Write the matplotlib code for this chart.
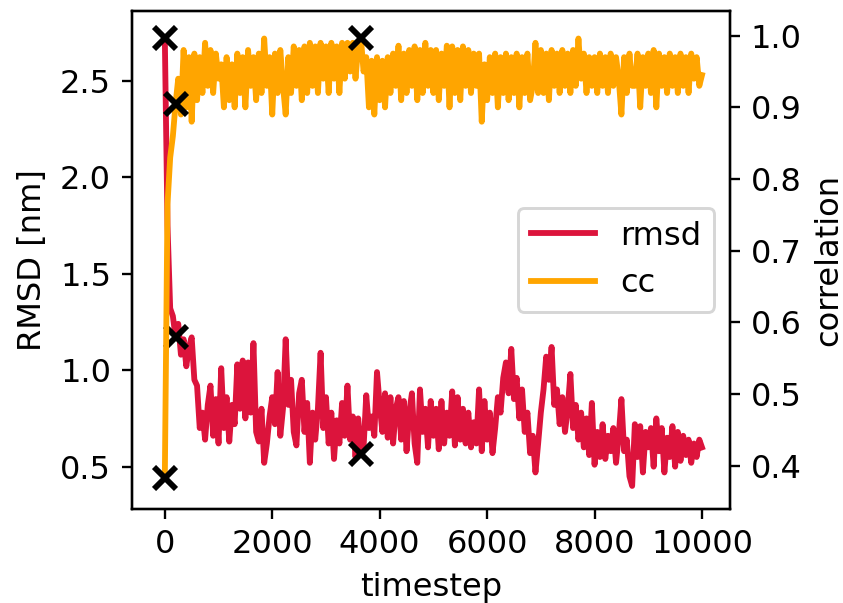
import numpy as np
import matplotlib.pyplot as plt

# timesteps every 50 steps, 0..10000
timestep = np.arange(0, 10001, 50)

rmsd = [
    2.72, 1.75, 1.32, 1.28, 1.17, 1.24, 1.08, 1.16, 1.02, 1.12,
    1.17, 0.95, 0.92, 0.70, 0.78, 0.64, 0.82, 0.92, 0.66, 0.85,
    0.62, 1.01, 0.70, 0.86, 0.63, 0.82, 0.72, 1.03, 0.80, 1.05,
    0.75, 1.04, 0.78, 1.14, 0.68, 0.63, 0.80, 0.52, 0.62, 0.76,
    0.86, 0.72, 0.99, 0.66, 0.80, 1.16, 0.82, 0.95, 0.68, 0.61,
    0.88, 0.95, 0.68, 0.83, 0.52, 0.78, 0.64, 0.80, 1.09, 0.70,
    0.86, 0.62, 0.78, 0.54, 0.74, 0.62, 0.83, 0.66, 0.92, 0.64,
    0.76, 0.55, 0.75, 0.566, 0.60, 0.87, 0.70, 0.76, 0.66, 0.99,
    0.82, 0.68, 0.88, 0.65, 0.86, 0.62, 0.80, 0.86, 0.64, 0.84,
    0.58, 0.78, 0.88, 0.62, 0.52, 0.90, 0.68, 0.80, 0.60, 0.84,
    0.66, 0.80, 0.59, 0.84, 0.62, 0.78, 0.66, 0.89, 0.61, 0.86,
    0.64, 0.80, 0.62, 0.78, 0.60, 0.73, 0.62, 0.90, 0.58, 0.84,
    0.64, 0.78, 0.57, 0.70, 0.86, 0.78, 0.96, 1.04, 0.88, 1.11,
    0.85, 0.96, 0.75, 0.90, 0.68, 0.78, 0.57, 0.66, 0.47, 0.62,
    0.78, 0.90, 1.07, 0.95, 1.12, 0.82, 0.90, 0.72, 0.86, 0.68,
    0.80, 0.98, 0.70, 0.82, 0.64, 0.78, 0.60, 0.75, 0.56, 0.83,
    0.51, 0.68, 0.55, 0.72, 0.54, 0.66, 0.58, 0.70, 0.52, 0.66,
    0.85, 0.58, 0.64, 0.45, 0.40, 0.72, 0.55, 0.71, 0.47, 0.68,
    0.60, 0.70, 0.50, 0.75, 0.58, 0.70, 0.47, 0.65, 0.55, 0.71,
    0.50, 0.68, 0.53, 0.66, 0.56, 0.64, 0.52, 0.62, 0.55, 0.64,
    0.60,
]

cc = [
    0.383, 0.765, 0.83, 0.86, 0.905, 0.94, 0.89, 0.98, 0.90, 0.97,
    0.88, 0.975, 0.91, 0.97, 0.92, 0.99, 0.93, 0.98, 0.92, 0.975,
    0.94, 0.96, 0.90, 0.97, 0.91, 0.96, 0.90, 0.975, 0.92, 0.97,
    0.90, 0.98, 0.93, 0.97, 0.91, 0.975, 0.92, 0.996, 0.93, 0.97,
    0.89, 0.975, 0.92, 0.98, 0.93, 0.89, 0.97, 0.92, 0.985, 0.93,
    0.98, 0.91, 0.985, 0.92, 0.99, 0.93, 0.985, 0.92, 0.99, 0.94,
    0.985, 0.92, 0.99, 0.94, 0.985, 0.92, 0.99, 0.94, 0.99, 0.95,
    0.99, 0.94, 0.985, 0.997, 0.95, 0.97, 0.90, 0.965, 0.89, 0.97,
    0.91, 0.965, 0.90, 0.97, 0.92, 0.975, 0.93, 0.986, 0.91, 0.975,
    0.92, 0.98, 0.93, 0.985, 0.91, 0.98, 0.92, 0.99, 0.93, 0.98,
    0.92, 0.98, 0.91, 0.975, 0.93, 0.986, 0.90, 0.985, 0.92, 0.98,
    0.91, 0.985, 0.93, 0.98, 0.92, 0.975, 0.93, 0.975, 0.88, 0.96,
    0.91, 0.97, 0.92, 0.975, 0.90, 0.97, 0.92, 0.975, 0.91, 0.97,
    0.92, 0.975, 0.90, 0.97, 0.92, 0.975, 0.91, 0.93, 0.99, 0.92,
    0.98, 0.92, 0.975, 0.91, 0.98, 0.93, 0.975, 0.92, 0.98, 0.93,
    0.975, 0.92, 0.98, 0.93, 0.996, 0.94, 0.975, 0.92, 0.97, 0.93,
    0.97, 0.92, 0.975, 0.93, 0.97, 0.92, 0.975, 0.93, 0.97, 0.94,
    0.89, 0.97, 0.92, 0.975, 0.93, 0.93, 0.975, 0.90, 0.97, 0.93,
    0.975, 0.92, 0.98, 0.90, 0.975, 0.93, 0.97, 0.92, 0.975, 0.93,
    0.97, 0.92, 0.975, 0.93, 0.97, 0.92, 0.975, 0.94, 0.97, 0.93,
    0.945,
]

# selected frames marked with crosses
marked_steps = [0, 200, 3650]

assert len(rmsd) == len(timestep) and len(cc) == len(timestep)
rmsd = np.array(rmsd)
cc = np.array(cc)
idx = [list(timestep).index(s) for s in marked_steps]

plt.rcParams["font.size"] = 11

fig = plt.figure(figsize=(843 / 210, 603 / 210), dpi=210)
ax1 = fig.add_axes([0.156, 0.156, 0.7105, 0.8265])
ax2 = ax1.twinx()

l1, = ax1.plot(timestep, rmsd, color="crimson", lw=2, label="rmsd")
ax1.plot(timestep[idx], rmsd[idx], "x", color="black", ms=7.5, mew=2)
l2, = ax2.plot(timestep, cc, color="orange", lw=2, label="cc")
ax2.plot(timestep[idx], cc[idx], "x", color="black", ms=7.5, mew=2)

ax1.set_xlim(-620, 10530)
ax1.set_ylim(0.281, 2.863)
ax2.set_ylim(0.34, 1.035)
ax1.set_xticks([0, 2000, 4000, 6000, 8000, 10000])
ax1.set_yticks([0.5, 1.0, 1.5, 2.0, 2.5])

ax1.set_xlabel("timestep")
ax1.set_ylabel("RMSD [nm]")
ax2.set_ylabel("correlation")

ax2.legend(handles=[l1, l2], loc="center right")

fig.savefig("out.png", dpi=210)
